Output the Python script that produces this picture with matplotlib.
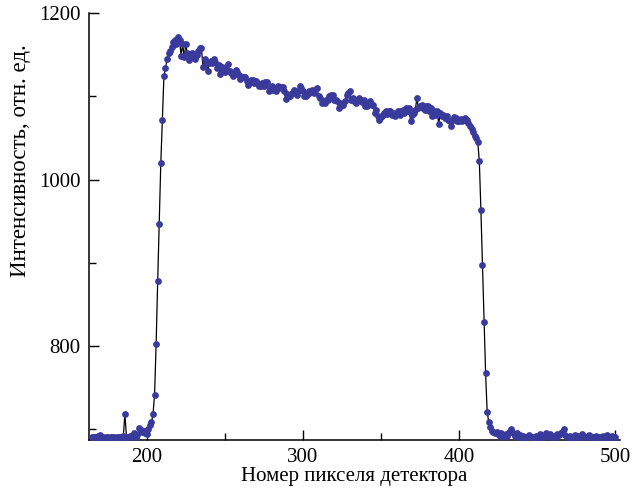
import numpy as np
import matplotlib
matplotlib.use("Agg")
import matplotlib.pyplot as plt
from matplotlib.ticker import MultipleLocator

# номер пикселя детектора
pixel = list(range(165, 501))

# интенсивность, отн. ед.
intensity = [
    690, 691, 690, 689, 692, 693, 690, 690, 689, 691,          # 165-174
    690, 689, 691, 690, 690, 689, 690, 691, 690, 691,          # 175-184
    692, 718, 691, 690, 692, 691, 693, 695, 691, 693,          # 185-194
    701, 699, 696, 698, 695, 694, 700, 705, 708, 718,          # 195-204
    741, 802, 878, 947, 1020, 1072, 1125, 1134, 1145, 1152,    # 205-214
    1155, 1160, 1165, 1168, 1163, 1172, 1168, 1149, 1163, 1147,  # 215-224
    1163, 1152, 1144, 1150, 1152, 1147, 1145, 1150, 1155, 1158,  # 225-234
    1158, 1136, 1145, 1142, 1131, 1140, 1143, 1140, 1145, 1142,  # 235-244
    1134, 1138, 1127, 1135, 1133, 1130, 1136, 1139, 1131, 1128,  # 245-254
    1125, 1127, 1132, 1130, 1126, 1121, 1124, 1123, 1123, 1119,  # 255-264
    1114, 1118, 1120, 1120, 1116, 1119, 1115, 1113, 1113, 1116,  # 265-274
    1112, 1117, 1117, 1106, 1110, 1112, 1108, 1109, 1107, 1112,  # 275-284
    1110, 1111, 1111, 1106, 1097, 1103, 1100, 1100, 1104, 1108,  # 285-294
    1104, 1102, 1106, 1113, 1110, 1106, 1100, 1100, 1103, 1106,  # 295-304
    1105, 1108, 1104, 1108, 1110, 1100, 1098, 1092, 1095, 1092,  # 305-314
    1096, 1096, 1100, 1102, 1102, 1096, 1096, 1094, 1086, 1092,  # 315-324
    1090, 1090, 1095, 1102, 1104, 1106, 1096, 1098, 1094, 1092,  # 325-334
    1096, 1098, 1096, 1093, 1096, 1088, 1088, 1091, 1094, 1090,  # 335-344
    1090, 1080, 1084, 1076, 1072, 1075, 1078, 1080, 1082, 1079,  # 345-354
    1083, 1082, 1078, 1080, 1076, 1080, 1082, 1078, 1082, 1084,  # 355-364
    1080, 1086, 1083, 1086, 1071, 1078, 1080, 1084, 1098, 1086,  # 365-374
    1088, 1090, 1086, 1084, 1089, 1089, 1082, 1086, 1076, 1082,  # 375-384
    1078, 1082, 1067, 1080, 1076, 1078, 1074, 1076, 1072, 1070,  # 385-394
    1065, 1072, 1075, 1074, 1070, 1071, 1073, 1070, 1072, 1074,  # 395-404
    1072, 1068, 1065, 1061, 1057, 1053, 1050, 1045, 1022, 963,   # 405-414
    897, 829, 768, 721, 709, 702, 698, 697, 695, 696,          # 415-424
    694, 692, 695, 693, 691, 694, 692, 696, 700, 697,          # 425-434
    694, 692, 695, 691, 693, 690, 692, 691, 690, 692,          # 435-444
    693, 691, 690, 689, 692, 690, 691, 694, 692, 690,          # 445-454
    693, 695, 692, 694, 691, 690, 692, 690, 694, 693,          # 455-464
    695, 697, 700, 693, 691, 690, 692, 690, 691, 693,          # 465-474
    690, 692, 691, 690, 694, 692, 691, 690, 693, 692,          # 475-484
    690, 691, 690, 692, 691, 690, 690, 692, 691, 690,          # 485-494
    693, 691, 690, 692, 690, 691,                              # 495-500
]

plt.rcParams['font.family'] = ['Liberation Serif', 'DejaVu Serif']

fig = plt.figure(figsize=(6.32, 4.93), dpi=100)
ax = fig.add_axes([0.1408, 0.1085, 0.840, 0.8645])

ax.plot(pixel, intensity, color='black', lw=0.9, zorder=2)
ax.plot(pixel, intensity, 'o', color='#3a3a9c', ms=4.9, mew=0, zorder=3)

ax.set_xlim(163, 503)
ax.set_ylim(687.5, 1200)

ax.xaxis.set_major_locator(MultipleLocator(100))
ax.xaxis.set_minor_locator(MultipleLocator(50))
ax.yaxis.set_major_locator(MultipleLocator(200))
ax.yaxis.set_minor_locator(MultipleLocator(100))

for s in ['top', 'right']:
    ax.spines[s].set_visible(False)
for s in ['left', 'bottom']:
    ax.spines[s].set_linewidth(1.1)

ax.tick_params(which='both', direction='in', width=1.0, labelsize=15, colors='black')
ax.tick_params(which='major', length=7.5, pad=6)
ax.tick_params(which='minor', length=5)

ax.set_xlabel('Номер пикселя детектора', fontsize=15, labelpad=0)
ax.set_ylabel('Интенсивность, отн. ед.', fontsize=16.5)
ax.yaxis.set_label_coords(-0.11, 0.655)

fig.savefig('out.png', dpi=100)
